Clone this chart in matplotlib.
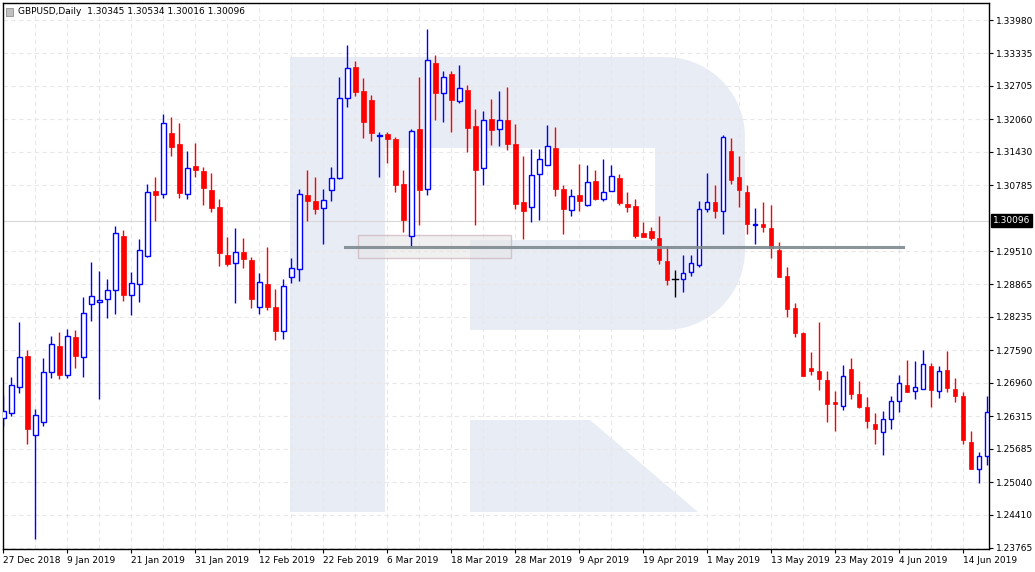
import matplotlib
matplotlib.use("Agg")
import matplotlib.pyplot as plt
import numpy as np
from matplotlib.patches import Rectangle, Polygon

ohlc = [
(1.2628,1.2673,1.2612,1.2642),(1.2638,1.2707,1.2632,1.2692),(1.2688,1.2813,1.2676,1.2746),(1.2748,1.2759,1.2578,1.2606),
(1.2595,1.2646,1.2393,1.2634),(1.2620,1.2744,1.2612,1.2717),(1.2717,1.2786,1.2705,1.2771),(1.2768,1.2795,1.2703,1.2711),
(1.2711,1.2801,1.2705,1.2787),(1.2785,1.2799,1.2724,1.2748),(1.2746,1.2863,1.2707,1.2832),(1.2849,1.2929,1.2815,1.2864),
(1.2853,1.2913,1.2664,1.2857),(1.2859,1.2896,1.2821,1.2876),(1.2876,1.2999,1.2829,1.2985),(1.2981,1.2991,1.2854,1.2866),
(1.2866,1.2910,1.2827,1.2890),(1.2888,1.2974,1.2852,1.2954),(1.2941,1.3080,1.2939,1.3066),(1.3067,1.3094,1.3009,1.3060),
(1.3062,1.3216,1.3054,1.3198),(1.3180,1.3210,1.3135,1.3153),(1.3158,1.3198,1.3054,1.3063),(1.3062,1.3144,1.3052,1.3112),
(1.3115,1.3160,1.3094,1.3108),(1.3105,1.3113,1.3040,1.3073),(1.3069,1.3102,1.3027,1.3034),(1.3036,1.3051,1.2922,1.2947),
(1.2943,1.2978,1.2922,1.2926),(1.2927,1.2995,1.2850,1.2950),(1.2950,1.2976,1.2918,1.2936),(1.2934,1.2939,1.2841,1.2858),
(1.2843,1.2908,1.2830,1.2892),(1.2888,1.2958,1.2836,1.2843),(1.2842,1.2877,1.2778,1.2796),(1.2796,1.2896,1.2781,1.2884),
(1.2901,1.2937,1.2889,1.2919),(1.2917,1.3072,1.2893,1.3061),(1.3059,1.3107,1.3009,1.3048),(1.3047,1.3094,1.3023,1.3032),
(1.3035,1.3072,1.2965,1.3050),(1.3070,1.3114,1.3048,1.3093),(1.3093,1.3288,1.3090,1.3248),(1.3248,1.3350,1.3230,1.3306),
(1.3307,1.3319,1.3251,1.3259),(1.3260,1.3286,1.3170,1.3201),(1.3243,1.3253,1.3164,1.3180),(1.3173,1.3182,1.3094,1.3176),
(1.3177,1.3182,1.3122,1.3168),(1.3167,1.3172,1.3065,1.3079),(1.3080,1.3107,1.2988,1.3011),(1.2981,1.3188,1.2958,1.3184),
(1.3187,1.3288,1.3001,1.3069),(1.3072,1.3381,1.3060,1.3320),(1.3315,1.3330,1.3205,1.3257),(1.3256,1.3299,1.3201,1.3287),
(1.3293,1.3299,1.3182,1.3244),(1.3242,1.3311,1.3238,1.3266),(1.3262,1.3272,1.3143,1.3189),(1.3193,1.3225,1.3001,1.3108),
(1.3111,1.3222,1.3079,1.3204),(1.3207,1.3245,1.3156,1.3186),(1.3188,1.3260,1.3154,1.3204),(1.3204,1.3268,1.3146,1.3158),
(1.3158,1.3197,1.3032,1.3042),(1.3045,1.3135,1.2974,1.3029),(1.3037,1.3148,1.3007,1.3099),(1.3100,1.3148,1.3011,1.3129),
(1.3118,1.3195,1.3118,1.3155),(1.3151,1.3191,1.3058,1.3071),(1.3072,1.3078,1.2984,1.3033),(1.3031,1.3072,1.3019,1.3058),
(1.3060,1.3120,1.3029,1.3048),(1.3040,1.3118,1.3038,1.3085),(1.3087,1.3107,1.3049,1.3051),(1.3052,1.3130,1.3048,1.3066),
(1.3067,1.3117,1.3067,1.3096),(1.3093,1.3100,1.3041,1.3044),(1.3043,1.3066,1.3027,1.3036),(1.3039,1.3051,1.2976,1.2980),
(1.2985,1.3008,1.2978,1.2978),(1.2989,1.2998,1.2972,1.2976),(1.2976,1.3018,1.2926,1.2934),(1.2932,1.2961,1.2885,1.2895),
(1.2896,1.2915,1.2862,1.2896),(1.2896,1.2943,1.2872,1.2909),(1.2911,1.2944,1.2903,1.2928),(1.2925,1.3047,1.2920,1.3033),
(1.3033,1.3102,1.3027,1.3045),(1.3045,1.3078,1.3015,1.3029),(1.3029,1.3176,1.2984,1.3171),(1.3144,1.3169,1.3080,1.3089),
(1.3094,1.3135,1.3036,1.3069),(1.3065,1.3078,1.2984,1.3003),(1.3002,1.3034,1.2965,1.3003),(1.3003,1.3045,1.2988,1.2998),
(1.2995,1.3040,1.2937,1.2957),(1.2954,1.2968,1.2901,1.2901),(1.2902,1.2921,1.2823,1.2839),(1.2840,1.2850,1.2784,1.2792),
(1.2793,1.2795,1.2709,1.2709),(1.2724,1.2755,1.2711,1.2718),(1.2718,1.2813,1.2682,1.2703),(1.2702,1.2718,1.2620,1.2656),
(1.2658,1.2681,1.2602,1.2655),(1.2651,1.2731,1.2643,1.2709),(1.2722,1.2745,1.2664,1.2674),(1.2675,1.2700,1.2647,1.2649),
(1.2650,1.2669,1.2608,1.2622),(1.2617,1.2638,1.2577,1.2606),(1.2601,1.2642,1.2556,1.2626),(1.2626,1.2671,1.2606,1.2661),
(1.2661,1.2712,1.2639,1.2696),(1.2692,1.2741,1.2678,1.2678),(1.2680,1.2739,1.2664,1.2688),(1.2684,1.2760,1.2684,1.2733),
(1.2729,1.2735,1.2649,1.2682),(1.2680,1.2729,1.2666,1.2719),(1.2720,1.2757,1.2678,1.2686),(1.2685,1.2706,1.2659,1.2671),
(1.2671,1.2679,1.2577,1.2585),(1.2582,1.2603,1.2529,1.2529),(1.2529,1.2563,1.2502,1.2554),(1.2554,1.2671,1.2538,1.2640),
]
opens = [r[0] for r in ohlc]
highs = [r[1] for r in ohlc]
lows = [r[2] for r in ohlc]
closes = [r[3] for r in ohlc]

date_labels = ["27 Dec 2018","9 Jan 2019","21 Jan 2019","31 Jan 2019","12 Feb 2019","22 Feb 2019",
               "6 Mar 2019","18 Mar 2019","28 Mar 2019","9 Apr 2019","19 Apr 2019","1 May 2019",
               "13 May 2019","23 May 2019","4 Jun 2019","14 Jun 2019"]
price_ticks = [1.23765,1.24410,1.25040,1.25685,1.26315,1.26960,1.27590,1.28235,1.28865,1.29510,
               1.30785,1.31430,1.32060,1.32705,1.33335,1.33980]
last_price = 1.30096
level = 1.2958
box = (44.3, 63.5, 1.29368, 1.29813)
title = "GBPUSD,Daily  1.30345 1.30534 1.30016 1.30096"

W, H = 1035, 572
fig = plt.figure(figsize=(W/100, H/100), dpi=100)
L, R, T, B = 2.5, 989, 3, 549
ax = fig.add_axes([L/W, 1-B/H, (R-L)/W, (B-T)/H])
ax.set_xlim(-0.1, 123.25)
ax.set_ylim(1.23745, 1.34310)

wm = '#e8ecf4'
def px(pts):
    return [(x/W, 1-y/H) for x, y in pts]
def add(pts):
    ax.add_patch(Polygon(px(pts), closed=True, transform=fig.transFigure, fc=wm, ec='none', zorder=0))
add([(290,57),(385,57),(385,512),(290,512)])
add([(385,57),(660,57),(660,148),(385,148)])
add([(470,240),(660,240),(660,330),(470,330)])
r = 80
a1 = np.linspace(np.pi/2, 0, 20)
a2 = np.linspace(0, -np.pi/2, 20)
right = [(655,57)] + [(665+r*np.cos(a), 57+r-r*np.sin(a)) for a in a1] + \
        [(665+r*np.cos(a), 330-r-r*np.sin(a)) for a in a2] + [(655,330)]
add(right)
add([(470,420),(590,420),(698,512),(470,512)])

for i in range(0, 124, 4):
    ax.axvline(i, color='#e8e8e8', lw=0.8, ls=(0,(4,3)), zorder=0.5)
for p in price_ticks:
    ax.axhline(p, color='#e8e8e8', lw=0.8, ls=(0,(4,3)), zorder=0.5)

ax.axhline(last_price, color='#d8d8d8', lw=0.8, zorder=1)
ax.add_patch(Rectangle((box[0], box[2]), box[1]-box[0], box[3]-box[2], fc='#e6e6e6', alpha=0.6,
                       ec='#c8a8b4', lw=1, zorder=1))
ax.plot([42.7, 112.5], [level, level], color='#7d8a8e', lw=2.2, zorder=5, alpha=0.9)

x = np.arange(len(opens))
for i in x:
    o, h, l, c = opens[i], highs[i], lows[i], closes[i]
    if c > o:
        col = '#0000ff'
    elif c < o:
        col = '#ff0000'
    else:
        col = '#000000'
    ax.plot([i, i], [l, h], color=col, lw=1.0, zorder=2, solid_capstyle='butt')
    if c > o:
        ax.add_patch(Rectangle((i-0.3, o), 0.6, c-o, fc='white', ec=col, lw=1.0, zorder=3))
    elif c < o:
        ax.add_patch(Rectangle((i-0.3, c), 0.6, o-c, fc=col, ec=col, lw=0.5, zorder=3))
    else:
        ax.plot([i-0.35, i+0.35], [o, o], color=col, lw=1.0, zorder=3)

ax.yaxis.tick_right()
ax.set_yticks(price_ticks)
ax.set_yticklabels([f"{p:.5f}" for p in price_ticks], fontsize=6.5)
ax.set_xticks(range(0, 124, 8))
ax.set_xticklabels(date_labels, fontsize=6.5, ha='left')
ax.tick_params(axis='both', length=3, width=0.8, pad=2, colors='black')
for s in ax.spines.values():
    s.set_linewidth(1.0)
ax.text(1.004, last_price, f"{last_price:.5f}", transform=ax.get_yaxis_transform(), fontsize=6.5,
        color='white', va='center', ha='left',
        bbox=dict(boxstyle='square,pad=0.2', fc='black', ec='black'), zorder=10)
ax.text(16/(R-L), 1-(12-T)/(B-T), title, transform=ax.transAxes, fontsize=6.5, va='center', ha='left')
ax.add_patch(Rectangle(((6-L)/(R-L), 1-(16-T)/(B-T)), 7/(R-L), 8/(B-T), transform=ax.transAxes,
                       fc='#c0c0c0', ec='#808080', lw=0.5, zorder=10))

fig.savefig('out.png', dpi=100, facecolor='white')
